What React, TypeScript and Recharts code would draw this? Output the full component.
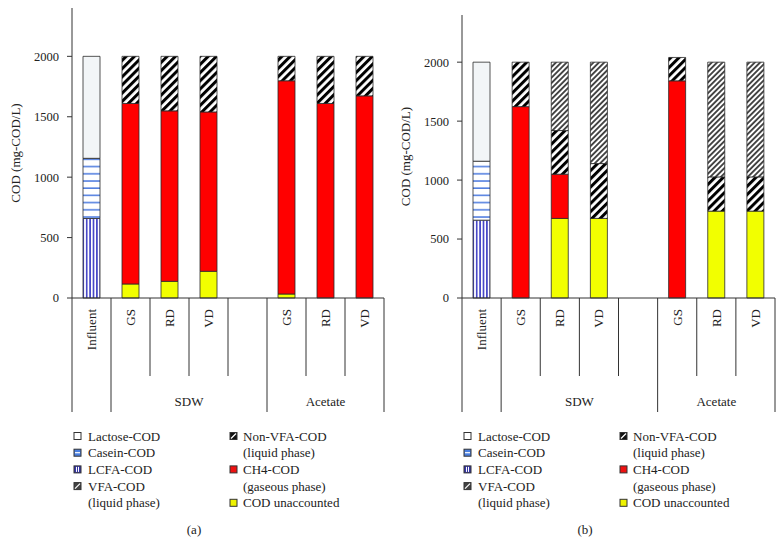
import React from "react";
import { BarChart, Bar, XAxis, YAxis } from "recharts";

// ---------- data ----------
const categories = ["Influent", "SDW-GS", "SDW-RD", "SDW-VD", "Gap", "Acetate-GS", "Acetate-RD", "Acetate-VD"];
const tickLabels = ["Influent", "GS", "RD", "VD", "", "GS", "RD", "VD"];
const groupLabels = ["", "SDW", "Acetate"];
const groupStarts = [0, 1, 5];
const groupSpans = [1, 4, 3];
const yTicks = [0, 500, 1000, 1500, 2000];

// panel (a)
const lcfaA = [658, 0, 0, 0, 0, 0, 0, 0];
const caseinA = [498, 0, 0, 0, 0, 0, 0, 0];
const lactoseA = [844, 0, 0, 0, 0, 0, 0, 0];
const unaccA = [0, 116, 138, 221, 0, 33, 0, 0];
const ch4A = [0, 1494, 1411, 1319, 0, 1765, 1610, 1673];
const nonVfaA = [0, 390, 451, 460, 0, 202, 390, 327];
const vfaA = [0, 0, 0, 0, 0, 0, 0, 0];

// panel (b)
const lcfaB = [660, 0, 0, 0, 0, 0, 0, 0];
const caseinB = [500, 0, 0, 0, 0, 0, 0, 0];
const lactoseB = [840, 0, 0, 0, 0, 0, 0, 0];
const unaccB = [0, 0, 675, 675, 0, 0, 737, 737];
const ch4B = [0, 1623, 375, 0, 0, 1842, 0, 0];
const nonVfaB = [0, 377, 370, 465, 0, 198, 290, 290];
const vfaB = [0, 0, 580, 860, 0, 0, 973, 973];

const seriesKeys = ["lcfa", "casein", "lactose", "unacc", "ch4", "nonVfa", "vfa"];

// legend: column 1 then column 2
const legendCol1Keys = ["lactose", "casein", "lcfa", "vfa"];
const legendCol1Lines = [["Lactose-COD"], ["Casein-COD"], ["LCFA-COD"], ["VFA-COD", "(liquid phase)"]];
const legendCol2Keys = ["nonVfa", "ch4", "unacc"];
const legendCol2Lines = [["Non-VFA-COD", "(liquid phase)"], ["CH4-COD", "(gaseous phase)"], ["COD unaccounted"]];

// ---------- styles ----------
const FONT = "'Liberation Serif', 'DejaVu Serif', 'Times New Roman', serif";
const INK = "#222";
const AXIS = "#333";
const PLOT_BOTTOM = 298;
const CHART_H = 420;
const YAXIS_W = 72;
const LINE_H = 16.7;

function buildRows(lcfa: number[], casein: number[], lactose: number[], unacc: number[], ch4: number[], nonVfa: number[], vfa: number[]) {
  return categories.map((cat, i) => ({
    cat,
    lcfa: lcfa[i],
    casein: casein[i],
    lactose: lactose[i],
    unacc: unacc[i],
    ch4: ch4[i],
    nonVfa: nonVfa[i],
    vfa: vfa[i],
  }));
}

const rowsA = buildRows(lcfaA, caseinA, lactoseA, unaccA, ch4A, nonVfaA, vfaA);
const rowsB = buildRows(lcfaB, caseinB, lactoseB, unaccB, ch4B, nonVfaB, vfaB);

function Patterns({ p }: { p: string }) {
  return (
    <defs>
      <pattern id={`${p}-lactose`} width="4" height="4" patternUnits="userSpaceOnUse">
        <rect width="4" height="4" fill="#f2f5f7" />
      </pattern>
      <pattern id={`${p}-casein`} width="8" height="7.2" patternUnits="userSpaceOnUse">
        <rect width="8" height="7.2" fill="#ffffff" />
        <line x1="0" y1="1" x2="8" y2="1" stroke="#3d6fdc" strokeWidth="1.4" />
      </pattern>
      <pattern id={`${p}-lcfa`} width="3.4" height="8" patternUnits="userSpaceOnUse">
        <rect width="3.4" height="8" fill="#ffffff" />
        <line x1="1.7" y1="0" x2="1.7" y2="8" stroke="#3c3cc4" strokeWidth="1.6" />
      </pattern>
      <pattern id={`${p}-vfa`} width="3.8" height="8" patternUnits="userSpaceOnUse" patternTransform="rotate(45)">
        <rect width="3.8" height="8" fill="#ffffff" />
        <line x1="1.9" y1="0" x2="1.9" y2="8" stroke="#000" strokeWidth="1.4" />
      </pattern>
      <pattern id={`${p}-nonVfa`} width="5.8" height="8" patternUnits="userSpaceOnUse" patternTransform="rotate(45)">
        <rect width="5.8" height="8" fill="#ffffff" />
        <rect x="0" y="0" width="3" height="8" fill="#000" />
      </pattern>
      <pattern id={`${p}-ch4`} width="4" height="4" patternUnits="userSpaceOnUse">
        <rect width="4" height="4" fill="#ff0000" />
      </pattern>
      <pattern id={`${p}-unacc`} width="4" height="4" patternUnits="userSpaceOnUse">
        <rect width="4" height="4" fill="#f2ff00" />
      </pattern>
    </defs>
  );
}

function LegendIcon({ k, x, y }: { k: string; x: number; y: number }) {
  const s = 7;
  const fills: Record<string, string> = {
    lactose: "#ffffff",
    casein: "#4a7fe0",
    lcfa: "#3535a8",
    vfa: "#444",
    nonVfa: "#111",
    ch4: "#ee1111",
    unacc: "#eef200",
  };
  return (
    <g>
      <rect x={x} y={y - s / 2} width={s} height={s} fill={fills[k]} stroke="#333" strokeWidth={1} />
      {k === "casein" && <line x1={x + 1} y1={y} x2={x + s - 1} y2={y} stroke="#fff" strokeWidth={1.2} />}
      {k === "lcfa" && (
        <>
          <line x1={x + 2.5} y1={y - s / 2 + 1} x2={x + 2.5} y2={y + s / 2 - 1} stroke="#fff" strokeWidth={1} />
          <line x1={x + 4.5} y1={y - s / 2 + 1} x2={x + 4.5} y2={y + s / 2 - 1} stroke="#fff" strokeWidth={1} />
        </>
      )}
      {(k === "vfa" || k === "nonVfa") && (
        <line x1={x + 1} y1={y + s / 2 - 1} x2={x + s - 1} y2={y - s / 2 + 1} stroke="#fff" strokeWidth={1.2} />
      )}
    </g>
  );
}

function Panel({ rows, p, plotLeft, plotRight, plotTop, letter, letterX }: {
  rows: any[]; p: string; plotLeft: number; plotRight: number; plotTop: number; letter: string; letterX: number;
}) {
  const wrapLeft = plotLeft - YAXIS_W;
  const chartW = plotRight - wrapLeft + 7;
  const band = (plotRight - plotLeft) / categories.length;

  const renderTick = (props: any) => {
    const { x, y, index } = props;
    const left = x - band / 2;
    const gi = groupStarts.indexOf(index);
    const isLongLeft = gi >= 0;
    const isLast = index === categories.length - 1;
    return (
      <g>
        <line x1={left} y1={y} x2={left} y2={y + (isLongLeft ? 114 : 78)} stroke={AXIS} strokeWidth={1} />
        {isLast && <line x1={x + band / 2} y1={y} x2={x + band / 2} y2={y + 114} stroke={AXIS} strokeWidth={1} />}
        {tickLabels[index] && (
          <text
            x={x}
            y={y + 11}
            transform={`rotate(-90, ${x}, ${y + 11})`}
            textAnchor="end"
            dominantBaseline="central"
            fontFamily={FONT}
            fontSize={13}
            fill={INK}
          >
            {tickLabels[index]}
          </text>
        )}
        {isLongLeft && groupLabels[gi] && (
          <text
            x={left + (groupSpans[gi] * band) / 2}
            y={y + 103}
            textAnchor="middle"
            dominantBaseline="central"
            fontFamily={FONT}
            fontSize={13}
            fill={INK}
          >
            {groupLabels[gi]}
          </text>
        )}
      </g>
    );
  };

  const col1X = plotLeft + 2;
  const col2X = plotLeft + 158;
  const legendTop = 436;

  let row2 = 0;
  const col2Ys: number[] = legendCol2Lines.map((lines) => {
    const yy = legendTop + row2 * LINE_H;
    row2 += lines.length;
    return yy;
  });
  let row1 = 0;
  const col1Ys: number[] = legendCol1Lines.map((lines) => {
    const yy = legendTop + row1 * LINE_H;
    row1 += lines.length;
    return yy;
  });

  return (
    <div style={{ position: "absolute", left: wrapLeft, top: 0, width: chartW, height: 556 }}>
      <BarChart
        width={chartW}
        height={CHART_H}
        data={rows}
        margin={{ top: plotTop, right: chartW - (plotRight - wrapLeft), left: 0, bottom: 0 }}
        barSize={17}
      >
        <Patterns p={p} />
        <XAxis
          dataKey="cat"
          interval={0}
          tickLine={false}
          tickSize={0}
          tickMargin={0}
          height={CHART_H - PLOT_BOTTOM}
          axisLine={{ stroke: AXIS }}
          tick={renderTick}
        />
        <XAxis xAxisId="top" orientation="top" dataKey="cat" tick={false} tickLine={false} height={0} axisLine={{ stroke: AXIS }} />
        <YAxis
          domain={[0, 2400]}
          ticks={yTicks}
          width={YAXIS_W}
          tickSize={5}
          tickMargin={8}
          axisLine={{ stroke: AXIS }}
          tickLine={{ stroke: AXIS }}
          tick={{ fontSize: 12.5, fill: INK, fontFamily: FONT }}
        />
        <YAxis yAxisId="right" orientation="right" domain={[0, 2400]} tick={false} tickLine={false} width={0} axisLine={{ stroke: AXIS }} />
        {seriesKeys.map((k) => (
          <Bar
            key={k}
            dataKey={k}
            stackId="cod"
            fill={`url(#${p}-${k})`}
            stroke="#2a2a2a"
            strokeWidth={0.8}
            isAnimationActive={false}
          />
        ))}
      </BarChart>
      <svg
        width={chartW}
        height={556}
        style={{ position: "absolute", left: 0, top: 0, pointerEvents: "none", overflow: "visible" }}
      >
        <g transform={`translate(${-wrapLeft}, 0)`}>
          <text
            x={wrapLeft + 15}
            y={(plotTop + PLOT_BOTTOM) / 2}
            transform={`rotate(-90, ${wrapLeft + 15}, ${(plotTop + PLOT_BOTTOM) / 2})`}
            textAnchor="middle"
            dominantBaseline="central"
            fontFamily={FONT}
            fontSize={13}
            fill={INK}
          >
            COD (mg-COD/L)
          </text>
          {legendCol1Keys.map((k, i) => (
            <g key={k}>
              <LegendIcon k={k} x={col1X} y={col1Ys[i]} />
              {legendCol1Lines[i].map((t, j) => (
                <text key={j} x={col1X + 14} y={col1Ys[i] + j * LINE_H} dominantBaseline="central" fontFamily={FONT} fontSize={13} fill={INK}>
                  {t}
                </text>
              ))}
            </g>
          ))}
          {legendCol2Keys.map((k, i) => (
            <g key={k}>
              <LegendIcon k={k} x={col2X} y={col2Ys[i]} />
              {legendCol2Lines[i].map((t, j) => (
                <text key={j} x={col2X + 13} y={col2Ys[i] + j * LINE_H} dominantBaseline="central" fontFamily={FONT} fontSize={13} fill={INK}>
                  {t}
                </text>
              ))}
            </g>
          ))}
          <text x={letterX} y={529} textAnchor="middle" dominantBaseline="central" fontFamily={FONT} fontSize={13} fill={INK}>
            {letter}
          </text>
        </g>
      </svg>
    </div>
  );
}

export default function App() {
  return (
    <div style={{ position: "absolute", left: 0, top: 0, width: 783, height: 556, background: "#fff", overflow: "hidden" }}>
      <Panel rows={rowsA} p="pa" plotLeft={72} plotRight={384} plotTop={8} letter="(a)" letterX={194} />
      <Panel rows={rowsB} p="pb" plotLeft={462} plotRight={775} plotTop={15} letter="(b)" letterX={585} />
    </div>
  );
}
